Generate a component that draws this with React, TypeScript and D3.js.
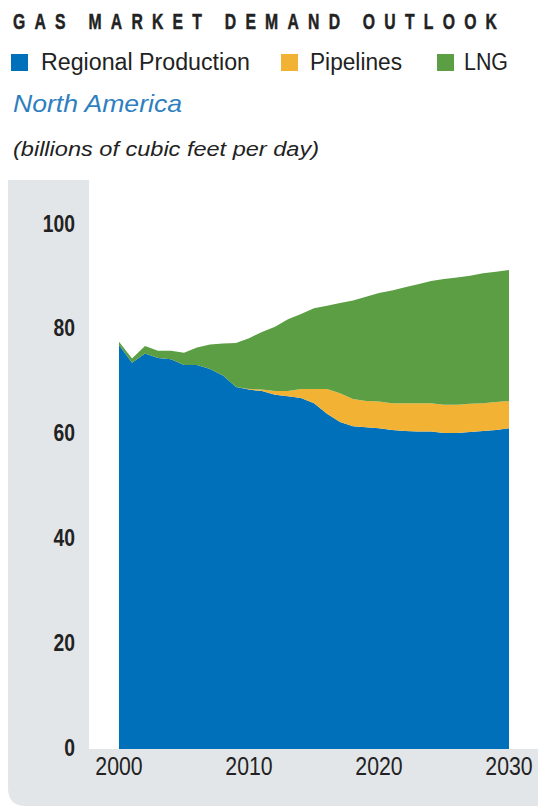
import React, { useEffect, useRef } from 'react';
import * as d3 from 'd3';

// values (billions of cubic feet per day)
const years = [2000, 2001, 2002, 2003, 2004, 2005, 2006, 2007, 2008, 2009,
  2010, 2011, 2012, 2013, 2014, 2015, 2016, 2017, 2018, 2019,
  2020, 2021, 2022, 2023, 2024, 2025, 2026, 2027, 2028, 2029, 2030];

const regional = [77.1, 73.7, 75.5, 74.6, 74.4, 73.3, 73.3, 72.5, 71.3, 69.1,
  68.6, 68.3, 67.6, 67.3, 67.0, 66.0, 64.0, 62.4, 61.6, 61.4,
  61.2, 60.9, 60.7, 60.6, 60.6, 60.3, 60.3, 60.5, 60.7, 60.9, 61.2];

const pipelines = [0, 0, 0, 0, 0, 0, 0, 0, 0, 0,
  0.1, 0.3, 0.7, 1.0, 1.7, 2.7, 4.7, 5.5, 5.2, 5.0,
  5.1, 5.1, 5.3, 5.4, 5.4, 5.4, 5.4, 5.4, 5.3, 5.3, 5.2];

const lng = [0.6, 0.8, 1.4, 1.4, 1.6, 2.3, 3.3, 4.7, 6.1, 8.4,
  9.7, 11.0, 12.3, 13.7, 14.3, 15.4, 15.9, 17.2, 18.8, 19.9,
  20.7, 21.5, 22.1, 22.7, 23.3, 24.0, 24.3, 24.4, 24.8, 24.9, 25.0];

const seriesNames = ['Regional Production', 'Pipelines', 'LNG'];
const seriesColors = ['#0070ba', '#f2b233', '#5c9e43'];
const yTicks = [0, 20, 40, 60, 80, 100];
const xTicks = [2000, 2010, 2020, 2030];

const sans = "'Liberation Sans', Arial, Helvetica, sans-serif";

const W = 538;
const H = 810;

function GasChart() {
  const ref = useRef<SVGSVGElement>(null);

  useEffect(() => {
    const svg = d3.select(ref.current);
    svg.selectAll('*').remove();

    // panel: grey L-shape behind a white plot field
    const px = 8, py = 180, pb = 806, r = 18;
    svg.append('path')
      .attr('d', `M${px},${py} H${W} V${pb} H${px + r} Q${px},${pb} ${px},${pb - r} Z`)
      .attr('fill', '#e3e6e9');
    svg.append('rect')
      .attr('x', 89).attr('y', py)
      .attr('width', W - 89).attr('height', 749 - py)
      .attr('fill', '#fff');

    var x = d3.scaleLinear().domain([2000, 2030]).range([119, 509]);
    var y = d3.scaleLinear().domain([0, 100]).range([749, 225]);

    var rows = years.map((yr, i) => ({
      year: yr,
      'Regional Production': regional[i],
      'Pipelines': pipelines[i],
      'LNG': lng[i]
    }));

    var layers = d3.stack<any>().keys(seriesNames)(rows);

    var area = d3.area<any>()
      .x(d => x(d.data.year))
      .y0(d => y(d[0]))
      .y1(d => y(d[1]));

    svg.append('g')
      .selectAll('path')
      .data(layers)
      .enter()
      .append('path')
      .attr('d', d => area(d as any))
      .attr('fill', (d, i) => seriesColors[i]);

    // y labels (condensed: squeeze the glyphs horizontally)
    svg.append('g')
      .selectAll('text')
      .data(yTicks)
      .enter()
      .append('text')
      .attr('transform', d => `translate(75,${y(d) + 6.5}) scale(0.84,1)`)
      .attr('text-anchor', 'end')
      .attr('font-family', sans)
      .attr('font-weight', 'bold')
      .attr('font-size', 23)
      .attr('fill', '#222')
      .text(d => d);

    // x labels
    svg.append('g')
      .selectAll('text')
      .data(xTicks)
      .enter()
      .append('text')
      .attr('transform', d => `translate(${x(d)},775) scale(0.85,1)`)
      .attr('text-anchor', 'middle')
      .attr('font-family', sans)
      .attr('font-size', 25)
      .attr('fill', '#222')
      .text(d => d);

    // title
    svg.append('text')
      .attr('transform', 'translate(13,29) scale(0.7,1)')
      .attr('font-family', sans)
      .attr('font-weight', 'bold')
      .attr('font-size', 22.5)
      .attr('fill', '#222')
      .attr('stroke', '#222')
      .attr('stroke-width', 0.5)
      .attr('textLength', 484 / 0.7)
      .attr('lengthAdjust', 'spacing')
      .text('GAS MARKET DEMAND OUTLOOK');

    // legend
    var legendX = [[11, 41, 209], [281, 310, 92], [437, 464, 44]];
    var legend = svg.append('g');
    seriesNames.forEach((name, i) => {
      legend.append('rect')
        .attr('x', legendX[i][0]).attr('y', 54)
        .attr('width', 17).attr('height', 17)
        .attr('fill', seriesColors[i]);
      legend.append('text')
        .attr('x', legendX[i][1]).attr('y', 70)
        .attr('font-family', sans)
        .attr('font-size', 23)
        .attr('fill', '#222')
        .attr('textLength', legendX[i][2])
        .attr('lengthAdjust', 'spacingAndGlyphs')
        .text(name);
    });

    svg.append('text')
      .attr('x', 13).attr('y', 112)
      .attr('font-family', sans)
      .attr('font-style', 'italic')
      .attr('font-size', 24)
      .attr('fill', '#2f7fc0')
      .attr('textLength', 169)
      .attr('lengthAdjust', 'spacingAndGlyphs')
      .text('North America');

    svg.append('text')
      .attr('x', 13).attr('y', 156)
      .attr('font-family', sans)
      .attr('font-style', 'italic')
      .attr('font-size', 20)
      .attr('fill', '#222')
      .attr('textLength', 306)
      .attr('lengthAdjust', 'spacingAndGlyphs')
      .text('(billions of cubic feet per day)');
  }, []);

  return <svg ref={ref} width={W} height={H} style={{ display: 'block' }}></svg>;
}

export default function App() {
  return (
    <div style={{ position: 'absolute', left: 0, top: 0, width: W, height: H, background: '#fff' }}>
      <GasChart />
    </div>
  );
}
